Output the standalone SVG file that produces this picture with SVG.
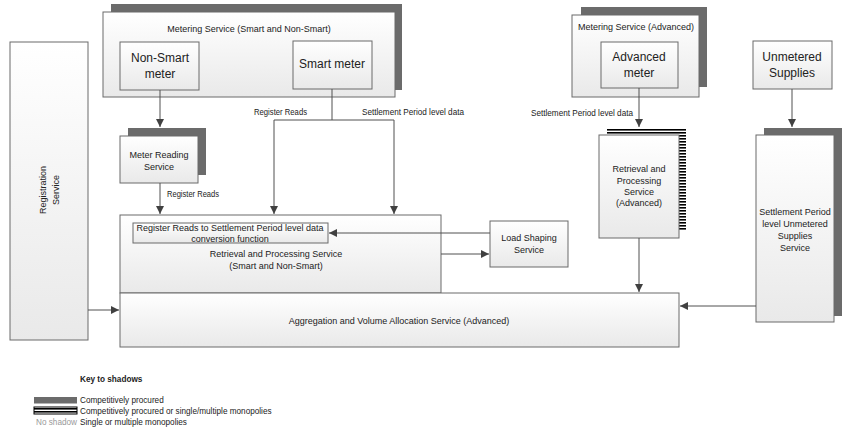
<svg xmlns="http://www.w3.org/2000/svg" width="850" height="429" viewBox="0 0 850 429">
<defs>
<linearGradient id="g" x1="0" y1="0" x2="0" y2="1">
<stop offset="0" stop-color="#ffffff"/>
<stop offset="1" stop-color="#e9e9e9"/>
</linearGradient>
<pattern id="stripes" patternUnits="userSpaceOnUse" width="4" height="3">
<rect width="4" height="3" fill="#ffffff"/>
<rect width="4" height="1.6" fill="#000000"/>
</pattern>
<marker id="ah" viewBox="0 0 10 10" refX="10" refY="5" markerWidth="8" markerHeight="8" markerUnits="userSpaceOnUse" orient="auto">
<path d="M0,0 L10,5 L0,10 z" fill="#404040"/>
</marker>
<style>
.box{fill:url(#g);stroke:#6a6a6a;stroke-width:1}
.sh{fill:#6b6b6b}
.t{font-family:"Liberation Sans",Arial,sans-serif;font-size:9px;fill:#222;text-anchor:middle}
.tl{font-family:"Liberation Sans",Arial,sans-serif;font-size:9px;fill:#222}
.big{font-family:"Liberation Sans",Arial,sans-serif;font-size:12px;fill:#222;text-anchor:middle}
.lg{font-family:"Liberation Sans",Arial,sans-serif;font-size:8.2px;fill:#222}
.c{fill:none;stroke:#505050;stroke-width:1;marker-end:url(#ah)}
.cl{fill:none;stroke:#505050;stroke-width:1}
</style>
</defs>
<rect width="850" height="429" fill="#ffffff"/>

<g id="metering-smart">
<rect class="sh" x="111" y="4" width="291" height="86"/>
<rect class="box" x="103" y="12" width="292" height="85"/>
<text class="t" x="249" y="32">Metering Service (Smart and Non-Smart)</text>
</g>
<g id="non-smart-meter">
<rect class="box" x="120" y="42" width="79" height="48"/>
<text class="big" x="160" y="62">Non-Smart</text>
<text class="big" x="160" y="78">meter</text>
</g>
<g id="smart-meter">
<rect class="box" x="293" y="41" width="79" height="48"/>
<text class="big" x="332" y="68">Smart meter</text>
</g>

<g id="metering-advanced">
<rect class="sh" x="581" y="7" width="126" height="80"/>
<rect class="box" x="572" y="15" width="127" height="82"/>
<text class="tl" x="578" y="30">Metering Service (Advanced)</text>
</g>
<g id="advanced-meter">
<rect class="box" x="601" y="42" width="77" height="46"/>
<text class="big" x="639" y="61">Advanced</text>
<text class="big" x="639" y="77">meter</text>
</g>

<g id="unmetered-supplies">
<rect class="box" x="753" y="41" width="79" height="48"/>
<text class="big" x="792" y="61">Unmetered</text>
<text class="big" x="792" y="77">Supplies</text>
</g>

<g id="registration-service">
<rect class="box" x="10" y="42" width="78" height="298"/>
<text class="t" transform="translate(46,190) rotate(-90)">Registration</text>
<text class="t" transform="translate(59,190) rotate(-90)">Service</text>
</g>

<g id="meter-reading-service">
<rect class="sh" x="128" y="128" width="78" height="47"/>
<rect class="box" x="120" y="136" width="78" height="47"/>
<text class="t" x="159" y="158">Meter Reading</text>
<text class="t" x="159" y="170">Service</text>
</g>

<g id="retrieval-advanced">
<rect x="607" y="128" width="79" height="103" fill="url(#stripes)"/>
<rect class="box" x="599" y="135" width="80" height="103"/>
<text class="t" x="639" y="172">Retrieval and</text>
<text class="t" x="639" y="184">Processing</text>
<text class="t" x="639" y="195">Service</text>
<text class="t" x="639" y="206">(Advanced)</text>
</g>

<g id="settlement-unmetered">
<rect class="sh" x="764" y="128" width="78" height="188"/>
<rect class="box" x="756" y="135" width="78" height="187"/>
<text class="t" x="795" y="215">Settlement Period</text>
<text class="t" x="795" y="227">level Unmetered</text>
<text class="t" x="795" y="239">Supplies</text>
<text class="t" x="795" y="251">Service</text>
</g>

<g id="retrieval-smart">
<rect class="box" x="120" y="215" width="321" height="78"/>
<text class="t" x="276" y="257">Retrieval and Processing Service</text>
<text class="t" x="276" y="269">(Smart and Non-Smart)</text>
</g>
<g id="conversion-function">
<rect class="box" x="133" y="223" width="195" height="20"/>
<text class="t" x="230" y="231">Register Reads to Settlement Period level data</text>
<text class="t" x="230" y="242">conversion function</text>
</g>

<g id="load-shaping">
<rect class="box" x="490" y="221" width="78" height="46"/>
<text class="t" x="529" y="241">Load Shaping</text>
<text class="t" x="529" y="253">Service</text>
</g>

<g id="aggregation">
<rect class="box" x="120" y="293" width="559" height="54"/>
<text class="t" x="399" y="324">Aggregation and Volume Allocation Service (Advanced)</text>
</g>

<g id="connectors">
<path class="c" d="M160,90 V127"/>
<path class="c" d="M160,183 V214"/>
<path class="cl" d="M332,89 V120 M274,120 H394"/>
<path class="c" d="M274,120 V214"/>
<path class="c" d="M394,120 V214"/>
<path class="c" d="M639,88 V127"/>
<path class="c" d="M792,89 V127"/>
<path class="c" d="M639,238 V292"/>
<path class="c" d="M756,306 H680"/>
<path class="c" d="M88,310 H119"/>
<path class="c" d="M490,233 H329"/>
<path class="c" d="M441,254 H489"/>
<text class="tl" x="167" y="197" textLength="52" lengthAdjust="spacingAndGlyphs">Register Reads</text>
<text class="tl" x="254" y="115" textLength="53" lengthAdjust="spacingAndGlyphs">Register Reads</text>
<text class="tl" x="362" y="115" textLength="102" lengthAdjust="spacingAndGlyphs">Settlement Period level data</text>
<text class="tl" x="531" y="116" textLength="102" lengthAdjust="spacingAndGlyphs">Settlement Period level data</text>
</g>

<g id="legend">
<text class="lg" x="80" y="382" font-weight="bold">Key to shadows</text>
<rect x="34" y="397" width="43" height="6.5" fill="#6b6b6b"/>
<rect x="34" y="407" width="43" height="7" fill="url(#stripes)"/>
<rect x="34" y="407" width="43" height="7" fill="none" stroke="#000" stroke-width="1"/>
<text class="lg" x="80" y="403">Competitively procured</text>
<text class="lg" x="80" y="413.5">Competitively procured or single/multiple monopolies</text>
<text class="lg" x="77" y="424.5" text-anchor="end" style="fill:#999">No shadow</text>
<text class="lg" x="80" y="424.5">Single or multiple monopolies</text>
</g>
</svg>
